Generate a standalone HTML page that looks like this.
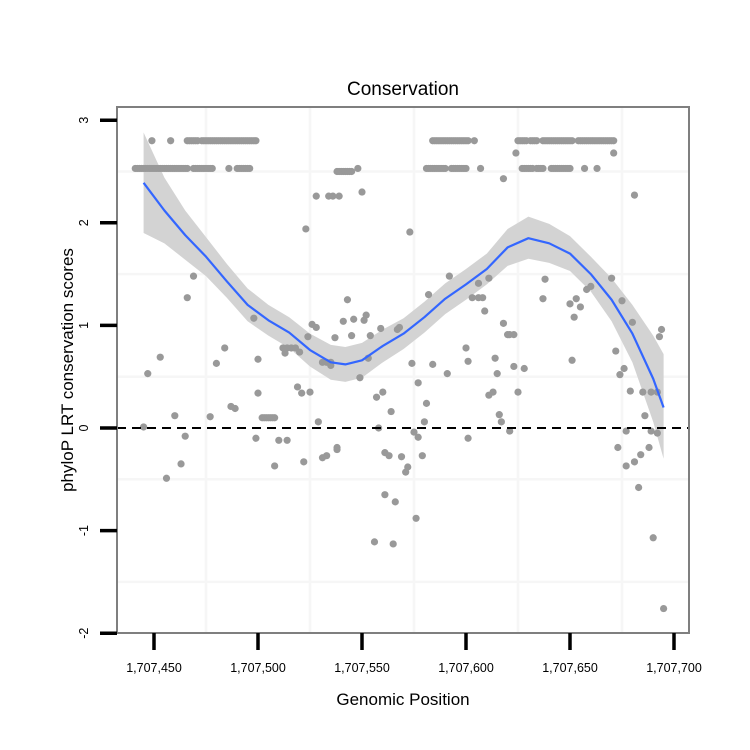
<!DOCTYPE html>
<html><head><meta charset="utf-8"><style>
html,body{margin:0;padding:0;background:#fff;}
svg{display:block;font-family:"Liberation Sans",sans-serif;}
</style></head><body>
<svg id="chart" width="750" height="750" viewBox="0 0 750 750">
<rect x="0" y="0" width="750" height="750" fill="#fff"/>
<text x="403" y="95" font-size="19" text-anchor="middle">Conservation</text>
<g id="panel"></g>
<text x="403" y="705" font-size="17" text-anchor="middle">Genomic Position</text>
<text transform="translate(73,370) rotate(-90)" font-size="17" text-anchor="middle">phyloP LRT conservation scores</text>
</svg>
<script>
const xTicks=[1707450,1707500,1707550,1707600,1707650,1707700];
const xTickLabels=["1,707,450","1,707,500","1,707,550","1,707,600","1,707,650","1,707,700"];
const yTicks=[3,2,1,0,-1,-2];
const yTickLabels=["3","2","1","0","-1","-2"];
const row280Positions=[1707449,1707458,1707466,1707467,1707468,1707469,1707470,1707471,1707473,1707474,1707475,1707476,1707477,1707478,1707479,1707480,1707481,1707482,1707483,1707484,1707485,1707486,1707487,1707488,1707489,1707490,1707491,1707492,1707493,1707494,1707495,1707496,1707497,1707498,1707499,1707584,1707585,1707586,1707587,1707588,1707589,1707590,1707591,1707592,1707593,1707594,1707595,1707596,1707597,1707598,1707599,1707600,1707601,1707604,1707625,1707626,1707627,1707628,1707629,1707631,1707632,1707633,1707634,1707637,1707638,1707639,1707640,1707641,1707642,1707643,1707644,1707645,1707646,1707647,1707648,1707649,1707650,1707651,1707654,1707655,1707656,1707657,1707658,1707659,1707660,1707661,1707662,1707663,1707664,1707665,1707666,1707667,1707668,1707669,1707670,1707671];
const row253Positions=[1707441,1707442,1707443,1707444,1707445,1707446,1707447,1707448,1707449,1707450,1707451,1707452,1707453,1707454,1707455,1707456,1707457,1707458,1707459,1707460,1707461,1707462,1707463,1707464,1707465,1707466,1707469,1707470,1707471,1707472,1707473,1707474,1707475,1707476,1707477,1707478,1707486,1707490,1707491,1707492,1707493,1707494,1707495,1707496,1707548,1707581,1707582,1707583,1707584,1707585,1707586,1707587,1707588,1707589,1707590,1707593,1707594,1707595,1707596,1707597,1707598,1707599,1707600,1707607,1707627,1707628,1707629,1707630,1707631,1707632,1707634,1707635,1707636,1707637,1707641,1707642,1707643,1707644,1707645,1707646,1707647,1707648,1707649,1707650,1707657,1707663];
const otherPositions=[1707538,1707539,1707540,1707541,1707542,1707543,1707544,1707545,1707528,1707534,1707536,1707539,1707550,1707523,1707618,1707681,1707624,1707671,
1707447,1707453,1707445,1707460,1707465,1707469,1707466,1707484,1707480,1707487,1707489,1707477,1707499,1707500,1707500,1707498,1707502,1707503,1707504,1707505,1707506,1707507,1707508,1707510,1707514,1707512,1707514,1707516,1707518,1707513,1707520,1707519,1707521,1707525,1707524,1707526,1707528,1707529,1707531,1707533,1707535,1707535,1707537,1707543,1707541,1707546,1707551,1707552,1707545,1707549,1707553,1707554,1707559,1707557,1707560,1707564,1707558,1707567,1707538,1707456,1707463,1707508,1707522,1707531,1707533,1707538,1707561,1707563,1707569,1707572,1707571,1707561,1707566,1707556,1707565,1707576,1707575,1707577,1707579,1707580,1707581,1707601,1707616,1707617,1707621,1707673,1707677,1707677,1707681,1707684,1707683,1707688,1707686,1707690,1707692,1707689,1707695,1707573,1707592,1707582,1707606,1707611,1707603,1707606,1707608,1707609,1707618,1707620,1707621,1707623,1707600,1707601,1707614,1707615,1707623,1707628,1707625,1707611,1707613,1707574,1707584,1707591,1707577,1707568,1707638,1707637,1707650,1707653,1707655,1707652,1707658,1707660,1707670,1707675,1707680,1707672,1707651,1707674,1707676,1707679,1707685,1707689,1707692,1707693,1707694];
const otherScores=[2.5,2.5,2.5,2.5,2.5,2.5,2.5,2.5,2.26,2.26,2.26,2.26,2.3,1.94,2.43,2.27,2.68,2.68,
0.53,0.69,0.01,0.12,-0.08,1.48,1.27,0.78,0.63,0.21,0.19,0.11,-0.1,0.67,0.34,1.07,0.1,0.1,0.1,0.1,0.1,0.1,0.1,-0.12,-0.12,0.78,0.78,0.78,0.78,0.73,0.74,0.4,0.34,0.35,0.89,1.01,0.98,0.06,0.64,0.64,0.64,0.61,0.88,1.25,1.04,1.06,1.05,1.1,0.9,0.49,0.68,0.9,0.97,0.3,0.35,0.16,0.0,0.96,-0.19,-0.49,-0.35,-0.37,-0.33,-0.29,-0.27,-0.21,-0.24,-0.27,-0.28,-0.38,-0.43,-0.65,-0.72,-1.11,-1.13,-0.88,-0.04,-0.09,-0.27,0.06,0.24,-0.1,0.13,0.06,-0.03,-0.19,-0.03,-0.37,-0.33,-0.26,-0.58,-0.19,0.12,-1.07,-0.05,-0.03,-1.76,1.91,1.48,1.3,1.41,1.46,1.27,1.27,1.27,1.14,1.02,0.91,0.91,0.91,0.78,0.65,0.68,0.53,0.6,0.58,0.35,0.32,0.35,0.63,0.62,0.53,0.44,0.98,1.45,1.26,1.21,1.26,1.18,1.08,1.35,1.38,1.46,1.24,1.03,0.75,0.66,0.52,0.58,0.36,0.35,0.35,0.35,0.89,0.96];
const smoothPos=[1707445,1707455,1707465,1707475,1707485,1707495,1707505,1707515,1707525,1707535,1707542,1707550,1707560,1707570,1707580,1707590,1707600,1707610,1707620,1707630,1707640,1707650,1707660,1707670,1707680,1707690,1707695];
const smoothFit=[2.39,2.12,1.88,1.67,1.43,1.2,1.05,0.93,0.76,0.64,0.62,0.66,0.8,0.92,1.08,1.26,1.4,1.55,1.76,1.85,1.8,1.7,1.5,1.25,0.92,0.48,0.2];
const smoothLo=[1.9,1.8,1.64,1.48,1.27,1.04,0.9,0.78,0.6,0.47,0.45,0.49,0.64,0.77,0.93,1.11,1.25,1.4,1.58,1.65,1.61,1.53,1.33,1.04,0.64,0.06,-0.3];
const smoothHi=[2.88,2.44,2.12,1.86,1.6,1.36,1.2,1.08,0.92,0.81,0.79,0.83,0.96,1.07,1.23,1.41,1.55,1.7,1.94,2.06,1.99,1.87,1.67,1.46,1.2,0.9,0.72];

const L=117,R=689,T=107,B=633;
function xs(v){return 154+(v-1707450)*104/50;}
function ys(v){return 428-v*102.6;}
const NS="http://www.w3.org/2000/svg";
const panel=document.getElementById('panel');
function mk(tag,attrs,parent){const e=document.createElementNS(NS,tag);for(const k in attrs)e.setAttribute(k,attrs[k]);(parent||panel).appendChild(e);return e;}

[1707475,1707525,1707575,1707625,1707675].forEach(v=>{const g=mk('line',{x1:xs(v),x2:xs(v),y1:T,y2:B,stroke:'#f6f6f6','stroke-width':2.5});

});
[2.5,1.5,0.5,-0.5,-1.5].forEach(v=>{const g=mk('line',{x1:L,x2:R,y1:ys(v),y2:ys(v),stroke:'#f6f6f6','stroke-width':2.5});

});

let d='';
smoothPos.forEach((p,i)=>{d+=(i?'L':'M')+xs(p)+','+ys(smoothHi[i]);});
for(let i=smoothPos.length-1;i>=0;i--)d+='L'+xs(smoothPos[i])+','+ys(smoothLo[i]);
const band=mk('path',{d:d+'Z',fill:'#d3d3d3'});



function pt(p,s){const c=mk('circle',{cx:xs(p),cy:ys(s),r:3.6,fill:'#999999'});

}
row280Positions.forEach(p=>pt(p,2.8));
row253Positions.forEach(p=>pt(p,2.53));
otherPositions.forEach((p,i)=>pt(p,otherScores[i]));

let ld='';smoothPos.forEach((p,i)=>{ld+=(i?'L':'M')+xs(p)+','+ys(smoothFit[i]);});
const sl=mk('path',{d:ld,fill:'none',stroke:'#3366ff','stroke-width':2.2,'stroke-linejoin':'round'});



const zl=mk('line',{x1:L,x2:R,y1:ys(0),y2:ys(0),stroke:'#000','stroke-width':2,'stroke-dasharray':'9,6'});



const br=mk('rect',{x:L,y:T,width:R-L,height:B-T,fill:'none',stroke:'#7f7f7f','stroke-width':2});



xTicks.forEach((v,i)=>{const t=mk('line',{x1:xs(v),x2:xs(v),y1:B,y2:B+17,stroke:'#000','stroke-width':3.5});


const lb=mk('text',{x:xs(v),y:672,'font-size':12.5,'text-anchor':'middle'});lb.textContent=xTickLabels[i];

});
yTicks.forEach((v,i)=>{const t=mk('line',{x1:L-17,x2:L,y1:ys(v),y2:ys(v),stroke:'#000','stroke-width':3.5});


const lb=mk('text',{transform:'translate(88,'+ys(v)+') rotate(-90)','font-size':12.5,'text-anchor':'middle'});lb.textContent=yTickLabels[i];

});
</script>
</body></html>
